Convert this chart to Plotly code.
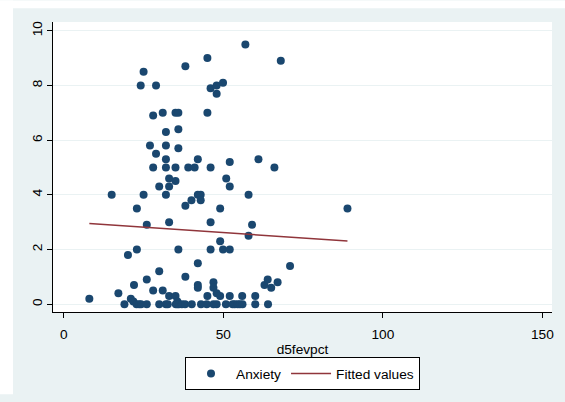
import plotly.graph_objects as go

# Scatter data: d5fevpct (x) vs Anxiety (y)
d5fevpct = [8.0, 15.0, 17.1, 19.0, 20.1, 21.0, 21.8, 22.0, 22.9, 22.9, 22.8, 23.6, 24.1, 24.2,
            25.0, 25.0, 26.0, 26.0, 26.0, 27.0, 28.0, 28.0, 28.0, 28.9, 28.9, 29.9, 29.9, 29.9,
            31.0, 31.0, 32.0, 32.0, 32.0, 32.0, 32.0, 32.0, 32.6, 33.0, 33.0, 33.0, 33.0,
            35.0, 35.9, 35.0, 35.0, 35.0, 35.1, 35.6, 35.6, 36.1, 37.0, 35.9, 35.9, 35.9,
            38.1, 38.1, 38.1, 38.0, 39.0, 40.0, 40.1, 41.0, 42.0, 42.0, 42.0, 42.0, 42.0,
            42.9, 42.9, 43.0, 45.0, 45.0, 45.0, 44.8, 46.0, 46.0, 46.0, 46.0, 46.9, 46.9,
            46.9, 47.9, 47.9, 47.9, 47.9, 49.0, 49.0, 49.0, 49.9, 49.9, 50.9, 50.8, 52.0,
            52.0, 52.0, 52.0, 52.9, 53.6, 54.5, 55.2, 56.0, 55.9, 56.9, 57.9, 57.9, 59.0,
            60.0, 60.0, 61.0, 62.9, 63.9, 64.0, 65.0, 66.0, 67.0, 68.0, 70.9, 88.9]
anxiety = [0.2, 4.0, 0.4, 0.0, 1.8, 0.2, 0.1, 0.7, 3.5, 2.0, 0.0, 0.0, 8.0, 0.0,
           8.5, 4.0, 0.0, 2.9, 0.9, 5.8, 6.9, 5.0, 0.5, 8.0, 5.5, 4.3, 1.2, 0.0,
           7.0, 0.5, 6.3, 5.8, 5.3, 5.0, 4.0, 0.0, 0.0, 4.6, 4.3, 3.0, 0.3,
           7.0, 7.0, 5.0, 4.5, 0.3, 0.0, 0.1, 0.0, 0.0, 0.0, 6.4, 5.7, 2.0,
           8.7, 3.6, 1.0, 0.0, 5.0, 3.8, 0.0, 5.0, 5.3, 4.0, 1.5, 0.7, 0.6,
           4.0, 3.8, 0.0, 9.0, 7.0, 0.3, 0.0, 7.9, 5.0, 3.0, 2.0, 0.8, 0.6,
           0.0, 0.0, 8.0, 7.7, 0.4, 3.5, 2.3, 0.3, 8.1, 2.0, 4.6, 0.0, 5.2,
           4.3, 2.0, 0.3, 0.0, 0.0, 0.0, 0.0, 0.0, 0.3, 9.5, 4.0, 2.5, 2.9,
           0.3, 0.0, 5.3, 0.7, 0.9, 0.0, 0.6, 5.0, 0.8, 8.9, 1.4, 3.5]

# Linear fit endpoints
fit_x = [8.0, 88.9]
fit_y = [2.95, 2.31]

x_ticks = [0, 50, 100, 150]
y_ticks = [0, 2, 4, 6, 8, 10]

FONT = "Liberation Sans, Arial, sans-serif"
BG = "#EAF2F3"

fig = go.Figure()
fig.add_trace(go.Scatter(x=d5fevpct, y=anxiety, mode="markers", name="Anxiety",
                         marker=dict(color="#1a476f", size=8, line=dict(width=0))))
fig.add_trace(go.Scatter(x=fit_x, y=fit_y, mode="lines", name="Fitted values",
                         line=dict(color="#90353b", width=1.5)))

W, H = 565, 402
L, R, T, B = 53, 13, 22, 84
pw = W - L - R
ph = H - T - B


def px_x(xp):
    return (xp - L) / pw


def px_y(yp):
    return (H - B - yp) / ph


# white outer strips (left and top) over the light background
strips = [
    dict(type="rect", xref="paper", yref="paper", x0=px_x(0), x1=px_x(13), y0=px_y(H), y1=px_y(0),
         fillcolor="white", line=dict(width=0), layer="above"),
    dict(type="rect", xref="paper", yref="paper", x0=px_x(0), x1=px_x(W), y0=px_y(8), y1=px_y(0),
         fillcolor="white", line=dict(width=0), layer="above"),
]

fig.update_layout(
    width=W, height=H,
    margin=dict(l=L, r=R, t=T, b=B, pad=0),
    paper_bgcolor=BG,
    plot_bgcolor="white",
    font=dict(family=FONT, size=13.7, color="black"),
    showlegend=True,
    legend=dict(orientation="h", x=0.5, xanchor="center", y=px_y(364), yanchor="top",
                bgcolor="white", bordercolor="black", borderwidth=1,
                font=dict(size=13.7), itemwidth=40, tracegroupgap=0),
    shapes=strips,
)

fig.update_xaxes(range=[-3.39, 153.0], tickvals=x_ticks, showgrid=False, zeroline=False,
                 showline=True, linecolor="black", linewidth=1,
                 ticks="outside", ticklen=5, tickcolor="black", tickwidth=1,
                 tickfont=dict(size=13.7), ticklabelstandoff=5,
                 title=dict(text="d5fevpct", font=dict(size=13.7), standoff=2))
fig.update_yaxes(range=[-0.287, 10.32], tickvals=y_ticks, showgrid=True, gridcolor=BG, gridwidth=1,
                 zeroline=False, showline=True, linecolor="black", linewidth=1,
                 ticks="outside", ticklen=5, tickcolor="black", tickwidth=1,
                 tickangle=-90, tickfont=dict(size=13.7))

fig.write_html("out.html")
